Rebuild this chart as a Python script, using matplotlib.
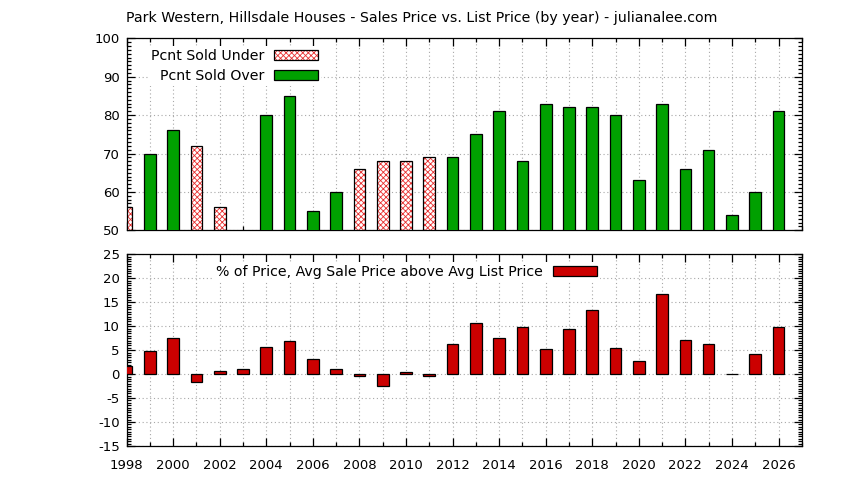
import numpy as np
import matplotlib
matplotlib.use('Agg')
import matplotlib.pyplot as plt
from matplotlib.patches import Patch
from matplotlib.legend_handler import HandlerTuple
from matplotlib.ticker import MultipleLocator

nan = np.nan

years = list(range(1998, 2027))
# percent of homes sold under / over list price (only the majority side is drawn)
pct_under = [56, nan, nan, 72, 56, nan, nan, nan, nan, nan, 66, 68, 68, 69, nan,
             nan, nan, nan, nan, nan, nan, nan, nan, nan, nan, nan, nan, nan, nan]
pct_over = [nan, 70, 76, nan, nan, nan, 80, 85, 55, 60, nan, nan, nan, nan, 69,
            75, 81, 68, 83, 82, 82, 80, 63, 83, 66, 71, 54, 60, 81]
# avg sale price above avg list price, %
pct_above = [1.7, 4.8, 7.5, -1.7, 0.6, 1.0, 5.6, 6.9, 3.2, 1.0, -0.3, -2.5, 0.4, -0.4, 6.2,
             10.6, 7.5, 9.8, 5.2, 9.4, 13.3, 5.4, 2.7, 16.7, 7.1, 6.2, 0.0, 4.2, 9.8]

title = 'Park Western, Hillsdale Houses - Sales Price vs. List Price (by year) - julianalee.com'

plt.rcParams['font.family'] = ['DejaVu Sans']
plt.rcParams['font.size'] = 9.5
plt.rcParams['axes.unicode_minus'] = False
plt.rcParams['hatch.linewidth'] = 0.6

GREEN = '#00a000'
RED = '#cc0000'
HATCH_RED = '#e83030'
GRID = dict(color='#a8a8a8', linestyle=(0, (1, 2.4)), linewidth=0.8)
TXT = 10.2

fig = plt.figure(figsize=(8.44, 4.8), dpi=100)
ax1 = fig.add_axes([0.150, 0.5202, 0.800, 0.400])
ax2 = fig.add_axes([0.150, 0.0708, 0.800, 0.3994])

yrs = np.array(years)
under = np.array(pct_under, dtype=float)
over = np.array(pct_over, dtype=float)
m_u = ~np.isnan(under)
m_o = ~np.isnan(over)

# top panel
ax1.bar(yrs[m_u], under[m_u], width=0.5, color='white', edgecolor=HATCH_RED,
        hatch='xxxxxx', linewidth=0, zorder=2)
ax1.bar(yrs[m_u], under[m_u], width=0.5, fill=False, edgecolor='black',
        linewidth=0.9, zorder=3)
ax1.bar(yrs[m_o], over[m_o], width=0.5, color=GREEN, edgecolor='black',
        linewidth=0.9, zorder=3)
ax1.set_ylim(50, 100)
ax1.yaxis.set_major_locator(MultipleLocator(10))
ax1.yaxis.set_minor_locator(MultipleLocator(1))

# bottom panel
ax2.bar(yrs, pct_above, width=0.5, color=RED, edgecolor='black', linewidth=0.9, zorder=3)
ax2.set_ylim(-15, 25)
ax2.yaxis.set_major_locator(MultipleLocator(5))
ax2.yaxis.set_minor_locator(MultipleLocator(0.5))

for ax in (ax1, ax2):
    ax.set_xlim(1998, 2027)
    ax.xaxis.set_major_locator(MultipleLocator(2))
    ax.xaxis.set_minor_locator(MultipleLocator(1))
    ax.tick_params(which='both', direction='in', top=True, right=True, width=0.9)
    ax.tick_params(which='major', length=5.5)
    ax.tick_params(which='minor', length=2.8)
    ax.tick_params(axis='y', pad=5)
    ax.tick_params(axis='x', pad=9)
    ax.grid(True, which='major', axis='y', **GRID)
    ax.grid(True, which='both', axis='x', **GRID)
    ax.set_axisbelow(True)
    for s in ax.spines.values():
        s.set_linewidth(0.9)

ax1.tick_params(axis='x', labelbottom=False)

h_under = (Patch(facecolor='white', edgecolor=HATCH_RED, hatch='xxxxxx', linewidth=0),
           Patch(fill=False, edgecolor='black', linewidth=0.9))
h_over = Patch(facecolor=GREEN, edgecolor='black', linewidth=0.9)
leg1 = ax1.legend([h_under, h_over], ['Pcnt Sold Under', 'Pcnt Sold Over'],
                  handler_map={tuple: HandlerTuple(ndivide=1, pad=0)},
                  loc='center right', bbox_to_anchor=(0.2877, 0.856), fontsize=TXT,
                  markerfirst=False, frameon=True, fancybox=False, borderpad=0.2,
                  borderaxespad=0, handlelength=3.1, handleheight=0.7,
                  handletextpad=0.7, labelspacing=0.45)
leg1.get_frame().set_edgecolor('none')
leg1.get_frame().set_alpha(1)

h_red = Patch(facecolor=RED, edgecolor='black', linewidth=0.9)
leg2 = ax2.legend([h_red], ['% of Price, Avg Sale Price above Avg List Price'],
                  loc='center right', bbox_to_anchor=(0.701, 0.91), fontsize=TXT,
                  markerfirst=False, frameon=True, fancybox=False, borderpad=0.2,
                  borderaxespad=0, handlelength=3.1, handleheight=0.7,
                  handletextpad=0.7)
leg2.get_frame().set_edgecolor('none')
leg2.get_frame().set_alpha(1)

fig.text(0.149, 1 - 18 / 480, title, ha='left', va='center', fontsize=TXT)

plt.savefig('out.png', dpi=100)
